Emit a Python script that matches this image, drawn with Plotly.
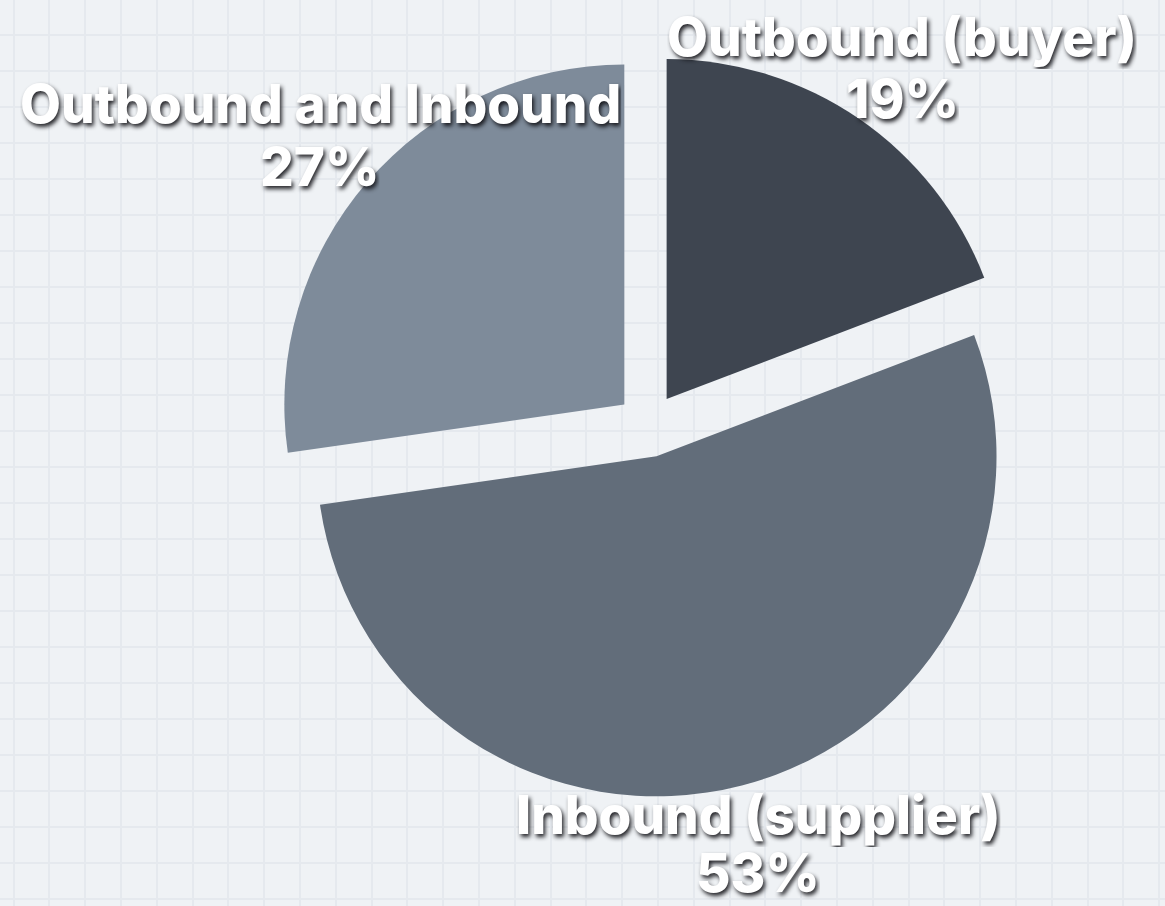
import plotly.graph_objects as go

# Share of integration direction
labels = ["Outbound (buyer)", "Inbound (supplier)", "Outbound and Inbound"]
values = [19, 53, 27]
colors = ["#3e4550", "#626d7a", "#7e8b9a"]

W, H = 1165, 906

# label centres in pixels from the top-left: (x, y of name line, y of value line)
label_pos = [(902, 37, 99), (758, 815, 873), (320, 104, 167)]

fig = go.Figure()

# empty trace so the hidden cartesian axes (graph-paper grid) are drawn
fig.add_trace(go.Scatter(x=[], y=[], hoverinfo="skip", showlegend=False))

fig.add_trace(go.Pie(
    labels=labels,
    values=values,
    sort=False,
    direction="clockwise",
    rotation=0,
    pull=[0.094, 0.094, 0.094],
    marker=dict(colors=colors, line=dict(width=0)),
    textinfo="none",
    hoverinfo="skip",
    showlegend=False,
    domain=dict(x=[0.2373, 0.8760], y=[0.1199, 0.941]),
))

label_font = dict(family="Inter", size=53, color="white", weight=800,
                  shadow="2px 3px 4px rgba(15,15,20,0.9)")

for lab, val, (px, py_name, py_val) in zip(labels, values, label_pos):
    for txt, py in ((lab, py_name), (f"{val}%", py_val)):
        fig.add_annotation(
            x=px / W, y=1 - py / H, xref="paper", yref="paper",
            xanchor="center", yanchor="middle",
            height=64, valign="middle",
            text=txt, showarrow=False, font=label_font,
        )

# faint graph-paper background drawn by hidden axes
grid_color = "#e5e9ee"
fig.update_xaxes(range=[0, W], showgrid=True, gridcolor=grid_color,
                 gridwidth=2, tick0=13.5, dtick=35.8, zeroline=False,
                 showticklabels=False, ticks="", showline=False, fixedrange=True)
fig.update_yaxes(range=[H, 0], showgrid=True, gridcolor=grid_color,
                 gridwidth=2, tick0=35, dtick=36, zeroline=False,
                 showticklabels=False, ticks="", showline=False, fixedrange=True)

fig.update_layout(
    width=W, height=H,
    margin=dict(l=0, r=0, t=0, b=0),
    paper_bgcolor="#eff2f5",
    plot_bgcolor="#eff2f5",
)

fig.write_html("out.html")
